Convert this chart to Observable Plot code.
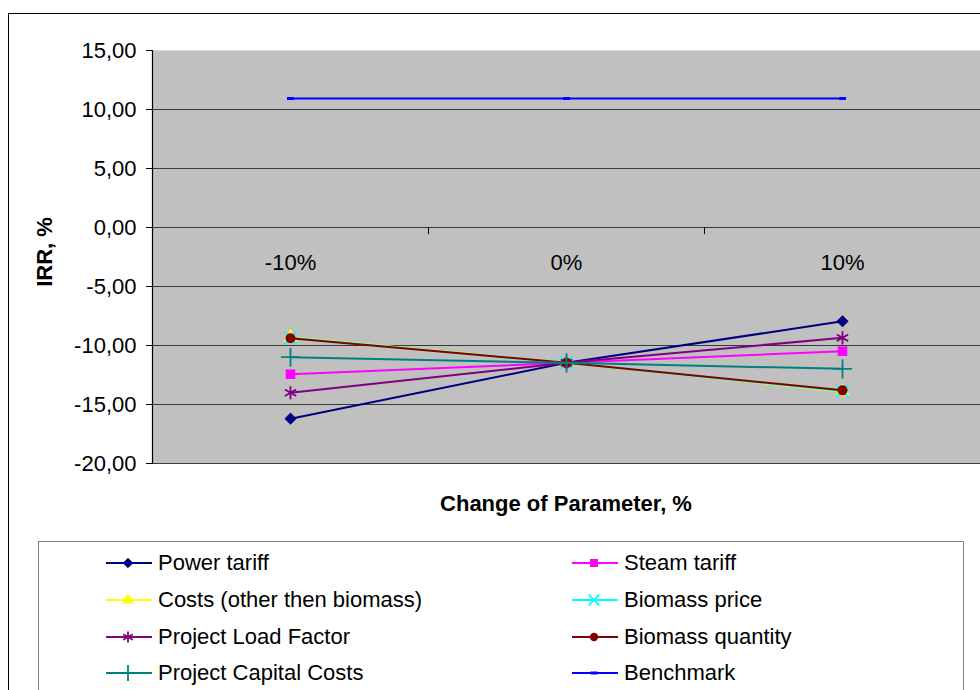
<!DOCTYPE html>
<html><head><meta charset="utf-8">
<script src="https://cdn.jsdelivr.net/npm/d3@7"></script>
<script src="https://cdn.jsdelivr.net/npm/@observablehq/plot@0.6"></script>
<style>
body{margin:0;background:#fff;font-family:"Liberation Sans",Arial,sans-serif;}
#page{position:relative;width:980px;height:690px;overflow:hidden;background:#fff}
#border{position:absolute;left:8px;top:13px;width:1100px;height:800px;border:1.5px solid #000;box-sizing:border-box}
#chart{position:absolute;left:0;top:0}
#ylabel{position:absolute;left:-55px;top:241px;width:200px;height:22px;line-height:22px;text-align:center;font-weight:bold;font-size:22px;transform:rotate(-90deg);transform-origin:50% 50%}
#xlabel{position:absolute;left:152px;top:493px;width:828px;height:22px;line-height:22px;text-align:center;font-weight:bold;font-size:22px}
#legend{position:absolute;left:38px;top:541px;width:926px;height:200px;border:1px solid #808080;box-sizing:border-box;background:#fff}
.item{position:absolute;height:24px;display:flex;align-items:center;font-size:22px;white-space:nowrap}
.item svg{margin-right:6px}
</style></head><body>
<div id="page">
  <div id="border"></div>
  <div id="chart"></div>
  <div id="ylabel">IRR, %</div>
  <div id="xlabel">Change of Parameter, %</div>
  <div id="legend"></div>
</div>
<script>
// ---- data ----
const categories = ["-10%", "0%", "10%"];
const yTicks = [-20, -15, -10, -5, 0, 5, 10, 15];
const seriesNames = ["Power tariff", "Steam tariff", "Costs (other then biomass)", "Biomass price",
  "Project Load Factor", "Biomass quantity", "Project Capital Costs", "Benchmark"];
const powerTariff     = [-16.2, -11.47, -7.95];
const steamTariff     = [-12.43, -11.47, -10.48];
const costsOther      = [-9.3, -11.47, -13.9];
const biomassPrice    = [-9.35, -11.47, -13.85];
const loadFactor      = [-14.0, -11.47, -9.35];
const biomassQuantity = [-9.38, -11.47, -13.8];
const capitalCosts    = [-10.99, -11.47, -11.98];
const benchmark       = [10.93, 10.93, 10.93];

const seriesValues = [powerTariff, steamTariff, costsOther, biomassPrice, loadFactor, biomassQuantity, capitalCosts, benchmark];

// ---- styles ----
const dash = {draw(ctx, size) { ctx.rect(-3.5, -1.5, 7, 3); }};
const styles = [
  {color: "#000080", symbol: "diamond2", fill: "#000080", r: 5, sw: 1},
  {color: "#FF00FF", symbol: "square", fill: "#FF00FF", r: 5.4, sw: 0},
  {color: "#FFFF00", symbol: "triangle", fill: "#FFFF00", r: 5.4, sw: 0},
  {color: "#00FFFF", symbol: "times", fill: "none", r: 5.8, sw: 1.8},
  {color: "#800080", symbol: "asterisk", fill: "none", r: 6.2, sw: 1.8},
  {color: "#800000", symbol: "circle", fill: "#800000", r: 5, sw: 0},
  {color: "#008080", symbol: "plus", fill: "none", r: 6.2, sw: 1.8},
  {color: "#0000FF", symbol: dash, fill: "#0000FF", r: 3, sw: 0}
];

const rows = seriesNames.map((name, i) => categories.map((c, j) => ({series: name, cat: c, value: seriesValues[i][j]})));

const fmt = d => d.toFixed(2).replace(".", ",");
const W = 980, mL = 152, mR = 0;
const step = (W - mL - mR) / categories.length;

const marks = [
  Plot.frame({fill: "#C0C0C0", stroke: "none"}),
  Plot.ruleY(yTicks.filter(t => t < 15), {stroke: "#3a3a3a", strokeWidth: 1}),
  Plot.frame({anchor: "left", stroke: "#000", strokeWidth: 1.2}),
  Plot.axisY({ticks: yTicks, tickFormat: fmt, tickSize: 6, tickPadding: 10, fontSize: 22, label: null, stroke: "#000", fill: "#000"}),
  Plot.ruleX(categories.slice(0, -1), {x: d => d, y1: 0, y2: -0.6, dx: step / 2, stroke: "#000"}),
  Plot.text(categories, {x: d => d, y: 0, dy: 35, fontSize: 22, fill: "#000"})
];
rows.forEach((data, i) => {
  const s = styles[i];
  marks.push(Plot.line(data, {x: "cat", y: "value", stroke: s.color, strokeWidth: 2}));
  marks.push(Plot.dot(data, {x: "cat", y: "value", symbol: s.symbol, r: s.r,
    fill: s.fill, stroke: s.sw ? s.color : "none", strokeWidth: s.sw}));
});

const chart = Plot.plot({
  width: W, height: 530, marginLeft: mL, marginRight: mR, marginTop: 50, marginBottom: 67,
  x: {type: "point", domain: categories, padding: 0.5, axis: null},
  y: {domain: [-20, 15], axis: null},
  style: {fontFamily: '"Liberation Sans", Arial, sans-serif', fontSize: "22px", background: "transparent", color: "#000", overflow: "visible"},
  marks
});
document.getElementById("chart").appendChild(chart);

// ---- legend ----
const legend = document.getElementById("legend");
const rowTops = [9, 46, 83, 119];
const colLefts = [67, 533];
seriesNames.forEach((name, i) => {
  const s = styles[i];
  const div = document.createElement("div");
  div.className = "item";
  div.style.left = colLefts[i % 2] + "px";
  div.style.top = rowTops[Math.floor(i / 2)] + "px";
  const svg = d3.create("svg").attr("width", 46).attr("height", 20);
  svg.append("line").attr("x1", 0).attr("x2", 46).attr("y1", 10).attr("y2", 10).attr("stroke", s.color).attr("stroke-width", 2);
  const symType = typeof s.symbol === "string" ? {diamond2: d3.symbolDiamond2, square: d3.symbolSquare, triangle: d3.symbolTriangle,
    times: d3.symbolTimes, asterisk: d3.symbolAsterisk, circle: d3.symbolCircle, plus: d3.symbolPlus}[s.symbol] : s.symbol;
  svg.append("path").attr("transform", "translate(22,10)")
    .attr("d", d3.symbol(symType, Math.PI * s.r * s.r * 0.7)())
    .attr("fill", s.fill).attr("stroke", s.sw ? s.color : "none").attr("stroke-width", s.sw);
  div.appendChild(svg.node());
  const span = document.createElement("span");
  span.textContent = name;
  div.appendChild(span);
  legend.appendChild(div);
});
</script>
</body></html>
